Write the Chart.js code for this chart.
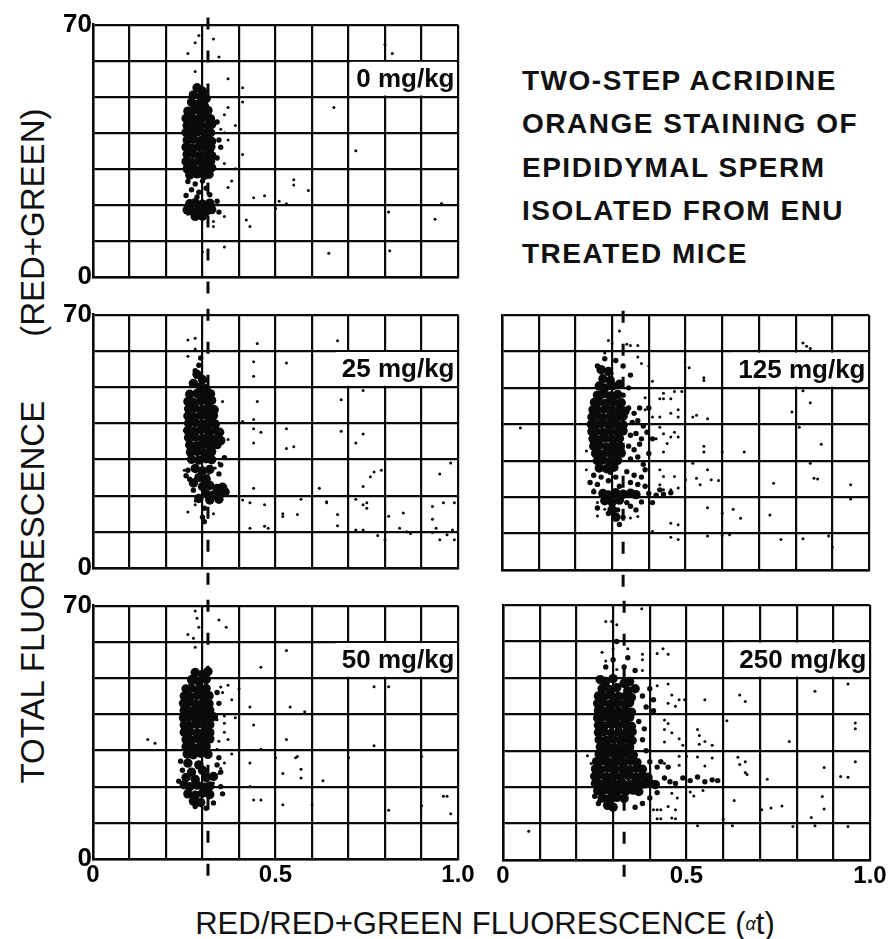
<!DOCTYPE html>
<html>
<head>
<meta charset="utf-8">
<script src="https://cdn.jsdelivr.net/npm/chart.js@4.4.1/dist/chart.umd.min.js"></script>
<style>
  body { margin: 0; background: #fff; width: 891px; height: 939px; position: relative; overflow: hidden;
         font-family: "Liberation Sans", Arial, Helvetica, sans-serif; color: #111; }
  canvas { position: absolute; }
  .titulo { position: absolute; left: 522px; top: 59px; font-size: 28px; font-weight: bold;
            line-height: 43.3px; letter-spacing: 1.5px; white-space: pre; }
  .ejeX { position: absolute; left: 185px; top: 908px; width: 600px; text-align: center;
          font-size: 31px; line-height: 31px; white-space: pre; }
  .ejeY { position: absolute; left: -317px; top: 427px; width: 700px; height: 38px; text-align: center;
          font-size: 33px; line-height: 38px; white-space: pre; transform: rotate(-90deg); }
</style>
</head>
<body>
<div class="titulo">TWO-STEP ACRIDINE
ORANGE STAINING OF
EPIDIDYMAL SPERM
ISOLATED FROM ENU
TREATED MICE</div>
<div class="ejeY">TOTAL FLUORESCENCE<span style="margin-left:64px">(RED+GREEN)</span></div>
<div class="ejeX">RED/RED+GREEN FLUORESCENCE (<span style="font-size:18px;font-style:italic;vertical-align:4px">α</span>t)</div>

<canvas id="p0" width="430" height="309" style="left:48px;top:8px"></canvas>
<canvas id="p25" width="430" height="310" style="left:48px;top:298px"></canvas>
<canvas id="p50" width="430" height="310" style="left:48px;top:589px"></canvas>
<canvas id="p125" width="432" height="311" style="left:457px;top:299px"></canvas>
<canvas id="p250" width="432" height="311" style="left:458px;top:589px"></canvas>

<script>
// Etiquetas y ejes
const doseLabels = ["0 mg/kg", "25 mg/kg", "50 mg/kg", "125 mg/kg", "250 mg/kg"];
const xTickValues = [0, 0.5, 1];
const xTickLabels = ["0", "0.5", "1.0"];
const yTickValues = [0, 70];
const yTickLabels = ["0", "70"];
// posicion de la linea discontinua (alfa t) en cada panel
const gateX = [0.315, 0.315, 0.315, 0.33, 0.33];

// ---- 0 mg/kg ----
const dose0Core = [
  [0.285,52.5],[0.30,51.5],[0.275,50.5],[0.295,50],[0.31,49.5],[0.27,48.5],[0.29,48],[0.305,47.5],
  [0.26,46],[0.275,46.3],[0.295,45.8],[0.315,46.2],
  [0.255,44],[0.27,44.2],[0.288,43.8],[0.307,44.3],[0.322,43.9],
  [0.258,42],[0.275,41.8],[0.295,42.2],[0.315,41.9],[0.325,42.3],
  [0.255,40.1],[0.268,39.8],[0.286,40.2],[0.306,39.9],[0.322,40],
  [0.258,38],[0.275,38.2],[0.295,37.8],[0.315,38.1],[0.325,37.6],
  [0.255,36],[0.27,35.8],[0.29,36.2],[0.31,35.9],[0.323,36.1],
  [0.258,34],[0.275,34.2],[0.295,33.8],[0.315,34.1],[0.325,33.7],
  [0.255,32],[0.27,31.8],[0.29,32.2],[0.31,31.9],[0.322,32.1],
  [0.258,30],[0.275,30.2],[0.295,29.8],[0.315,30.1],[0.325,30.3],
  [0.265,28.3],[0.285,28.6],[0.305,28.2],[0.318,28.5],
  [0.265,20.3],[0.28,20.6],[0.30,20.2],[0.32,20.5],[0.258,18.6],[0.27,18.3],[0.29,18.8],[0.31,18.2],
  [0.325,18.7],[0.28,16.8],[0.30,16.9]
];
const dose0Mid = [
  [0.26,26.5],[0.28,25.8],[0.30,26.6],[0.27,24.2],[0.29,23.5],[0.31,24.6],[0.255,22.6],[0.285,22.2],
  [0.32,22.8],[0.34,21],[0.345,18],[0.34,43],[0.345,38],[0.34,33],[0.35,36]
];
const dose0Sparse = [
  [0.66,47],[0.72,35],[0.82,62],[0.80,64.5],[0.55,27],[0.55,25.5],[0.51,21],[0.53,20.3],[0.955,20.4],
  [0.937,16],[0.81,18],[0.646,6.6],[0.813,7.3],[0.42,15.8],[0.43,14],[0.36,8.3],[0.44,22],[0.41,52.5],
  [0.37,55],[0.37,47],[0.345,61],[0.28,65],[0.26,62],[0.28,57],[0.41,48.5],[0.41,34],[0.39,42],
  [0.36,40],[0.37,38],[0.36,31.5],[0.38,26.6],[0.37,24.8],[0.36,16.8],[0.33,15.4],[0.26,17.4],
  [0.33,14],[0.30,7],[0.29,67],[0.33,66],[0.35,41],[0.36,45],[0.39,30],[0.47,22.5],[0.50,19],[0.59,24]
];

// ---- 25 mg/kg ----
const dose25Core = [
  [0.285,53.5],[0.30,52],[0.275,51],[0.295,50],[0.31,49.5],
  [0.265,48],[0.285,48.2],[0.305,47.8],[0.322,48.1],
  [0.26,46],[0.275,45.8],[0.295,46.2],[0.315,45.9],[0.325,46.3],
  [0.262,44],[0.28,44.2],[0.30,43.8],[0.32,44.1],[0.332,43.7],
  [0.26,42],[0.275,41.8],[0.295,42.2],[0.315,41.9],[0.33,42.1],
  [0.262,40],[0.28,40.2],[0.30,39.8],[0.32,40.1],[0.335,39.7],
  [0.26,38],[0.275,37.8],[0.295,38.2],[0.315,37.9],[0.335,38.1],[0.347,37.5],
  [0.262,36],[0.28,36.2],[0.30,35.8],[0.32,36.1],[0.34,35.7],[0.35,35.2],
  [0.265,34],[0.285,33.8],[0.305,34.2],[0.325,33.9],[0.34,34.1],
  [0.267,32],[0.285,32.2],[0.305,31.8],[0.325,32.1],
  [0.27,30],[0.29,29.8],[0.31,30.2],[0.325,29.9],
  [0.28,27.5],[0.30,26.8],[0.32,27.2],[0.29,25],[0.31,24.5],[0.275,23.5],[0.30,22.5],[0.32,22.8],
  [0.34,22],[0.355,22.3],[0.31,20.5],[0.33,20.2],[0.35,20.6],[0.362,21],[0.29,19.2],[0.32,18.8],[0.345,19]
];
const dose25Mid = [
  [0.26,27],[0.265,24.5],[0.345,26],[0.35,28.5],[0.36,30.5],[0.305,16.5],[0.30,14],[0.305,12.8],
  [0.275,21.5],[0.255,25.5],[0.29,56],[0.295,58],[0.28,54.5]
];
const dose25Sparse = [
  [0.45,62],[0.67,62.8],[0.44,57],[0.53,56.6],[0.44,53],[0.45,46],[0.68,46.5],[0.74,49],[0.355,46],
  [0.41,40.5],[0.44,41],[0.44,38.5],[0.46,37.5],[0.44,34.5],[0.53,38.5],[0.53,33],[0.55,33.5],
  [0.68,37.8],[0.74,37],[0.72,34.5],[0.37,35.5],[0.36,30.5],[0.76,25.2],[0.77,26.5],[0.79,27],
  [0.95,26],[0.98,29],[0.44,22],[0.62,22],[0.74,22.5],[0.41,18.8],[0.43,18],[0.47,17.5],[0.57,19],
  [0.64,18],[0.72,19],[0.74,17.5],[0.75,18],[0.75,16.5],[0.93,17],[0.96,18],[0.99,18],[0.52,15],
  [0.56,14.8],[0.67,14.8],[0.81,14.3],[0.85,15.2],[0.93,13.5],[0.43,11],[0.47,11.5],[0.48,11],
  [0.67,11.7],[0.72,10.5],[0.74,10.5],[0.78,9],[0.84,11],[0.86,10],[0.87,9.5],[0.93,9.8],[0.95,7.8],
  [0.97,9.2],[0.985,10.5],[0.94,11],[0.99,7.8],[0.80,7.8],[0.26,15.5],[0.28,17.5],[0.33,15],[0.35,19],
  [0.26,63],[0.28,63.5],[0.28,60.5],[0.26,58.5],[0.26,40],[0.25,38],[0.25,27],[0.28,18.5],
  [0.335,27.6],[0.345,29],[0.64,18.3],[0.52,14.2]
];

// ---- 50 mg/kg ----
const dose50Core = [
  [0.28,51.5],[0.30,51],[0.315,51.8],[0.27,49.5],[0.29,49],[0.31,49.6],
  [0.255,47],[0.27,47.2],[0.29,46.8],[0.31,47.1],
  [0.25,45],[0.265,44.8],[0.285,45.2],[0.305,44.9],[0.318,45.1],
  [0.248,43],[0.26,43.2],[0.28,42.8],[0.30,43.1],[0.318,42.9],
  [0.25,41],[0.265,40.8],[0.285,41.2],[0.305,40.9],[0.32,41.1],
  [0.248,39],[0.26,39.2],[0.28,38.8],[0.30,39.1],[0.32,38.9],[0.33,39.3],
  [0.25,37],[0.265,36.8],[0.285,37.2],[0.305,36.9],[0.32,37.1],
  [0.25,35],[0.265,35.2],[0.285,34.8],[0.305,35.1],[0.32,34.9],
  [0.255,33],[0.27,32.8],[0.29,33.2],[0.31,32.9],[0.32,33.2],
  [0.255,31],[0.27,31.2],[0.29,30.8],[0.31,31.1],
  [0.258,29],[0.275,28.8],[0.295,29.2],[0.315,28.9],
  [0.26,26.5],[0.29,26],[0.27,24],[0.30,24.5],[0.255,22.5],[0.28,22],[0.31,22.5],[0.33,22.8],
  [0.25,20.5],[0.265,20],[0.285,20.4],[0.305,19.8],[0.32,20.2],[0.26,18],[0.28,17.6],[0.30,18.2],
  [0.32,17.8],[0.275,16],[0.295,15.6]
];
const dose50Mid = [
  [0.24,27],[0.245,24.5],[0.235,21.5],[0.34,26],[0.35,24],[0.345,28],[0.28,14.5],[0.31,14],
  [0.33,15.5],[0.35,20],[0.355,18],[0.34,46],[0.345,43]
];
const dose50Sparse = [
  [0.345,66],[0.365,64],[0.26,62],[0.53,57.6],[0.46,53],[0.77,47.6],[0.81,47.6],[0.40,47],[0.355,46],
  [0.35,47.5],[0.43,42],[0.54,42],[0.58,40.7],[0.39,39],[0.36,39.5],[0.36,37.5],[0.34,38.5],[0.44,37],
  [0.15,33],[0.17,32],[0.46,30.3],[0.53,33],[0.56,28.3],[0.555,28],[0.77,31.3],[0.70,28],[0.90,28.3],
  [0.43,26.5],[0.50,28],[0.345,32.5],[0.34,30.3],[0.36,26.5],[0.38,29],[0.57,24.8],[0.57,22.4],
  [0.63,21.6],[0.43,20],[0.52,23.6],[0.345,23.6],[0.35,25],[0.33,21],[0.44,16.3],[0.46,16.3],
  [0.52,15],[0.60,15],[0.81,13.5],[0.90,14.7],[0.96,17.3],[0.97,17.3],[0.98,12.5],[0.29,64],
  [0.28,68.5],[0.285,66.5],[0.275,61],[0.28,58.5],[0.37,48],[0.38,44],[0.36,35],[0.37,33]
];

// ---- 125 mg/kg ----
const dose125Core = [
  [0.27,55],[0.29,54.5],[0.275,52.5],[0.295,52],[0.265,50.5],[0.28,50],[0.30,50.5],[0.32,51],
  [0.26,48],[0.275,48.3],[0.295,47.8],[0.315,48.2],
  [0.252,46],[0.265,46.2],[0.285,45.8],[0.305,46.1],[0.325,45.9],
  [0.248,44],[0.26,43.8],[0.28,44.2],[0.30,43.9],[0.32,44.1],[0.335,43.6],
  [0.245,42],[0.255,42.2],[0.275,41.8],[0.295,42.1],[0.315,41.9],[0.33,42.2],
  [0.243,40],[0.255,39.8],[0.27,40.2],[0.29,39.9],[0.31,40.1],[0.33,39.8],
  [0.245,38],[0.255,38.2],[0.275,37.8],[0.295,38.1],[0.315,37.9],[0.33,38.2],
  [0.248,36],[0.26,35.8],[0.28,36.2],[0.30,35.9],[0.32,36.1],
  [0.25,34],[0.265,34.2],[0.285,33.8],[0.305,34.1],[0.322,33.9],
  [0.255,32],[0.27,31.8],[0.29,32.2],[0.31,31.9],[0.325,32.1],
  [0.26,30],[0.275,30.2],[0.295,29.8],[0.315,30.1],
  [0.265,28],[0.285,27.8],[0.305,28.2],
  [0.275,21],[0.29,20.6],[0.31,21.2],[0.33,20.8],[0.35,21.1],[0.365,20.7],[0.28,19],[0.30,18.6],
  [0.32,19.2],[0.30,16.5],[0.31,14.5]
];
const dose125Mid = [
  [0.345,44.5],[0.36,43],[0.375,44.5],[0.355,40.5],[0.37,41],[0.385,39.5],[0.35,37],[0.365,37.5],
  [0.38,36],[0.395,37.8],[0.345,34],[0.36,33],[0.375,34.5],[0.35,30.5],[0.37,31],[0.385,29],
  [0.34,27],[0.36,26],[0.38,25.5],[0.35,24],[0.37,23.5],[0.39,23],[0.40,21],[0.42,20.5],[0.44,20.8],
  [0.46,21.2],[0.39,27.5],[0.40,32],[0.41,36],[0.40,44.5],[0.33,48],[0.345,50],[0.35,53.5],[0.33,56],
  [0.31,57.5],[0.28,58],[0.26,56],[0.27,25.5],[0.25,26],[0.26,23.5],[0.29,24.5],[0.31,25.5],[0.32,23],
  [0.295,26.8],[0.24,24],[0.25,21.5],[0.26,17],[0.29,15.5],[0.315,16.5],[0.32,12.5],[0.33,14.5],
  [0.35,17.5],[0.34,18.5],[0.365,16.5],[0.38,18.7],[0.41,18.5],[0.43,22]
];
const dose125Sparse = [
  [0.32,65.6],[0.34,62],[0.35,61.6],[0.37,61.6],[0.37,58.5],[0.38,56.7],[0.40,56],[0.41,51.8],
  [0.51,55.5],[0.55,52.8],[0.55,52],[0.82,62.3],[0.83,61.4],[0.84,60.8],[0.44,48.5],[0.47,49],
  [0.49,49],[0.43,47],[0.44,47],[0.46,47],[0.39,47.3],[0.39,44],[0.41,42],[0.43,42],[0.46,43],
  [0.48,44],[0.48,42],[0.52,42],[0.53,42.5],[0.56,41.5],[0.82,49.2],[0.84,45.9],[0.79,43.4],
  [0.81,39.2],[0.43,39.2],[0.44,37.4],[0.46,36.5],[0.47,37.8],[0.48,36.5],[0.42,36],[0.45,34.7],
  [0.44,32.4],[0.55,34],[0.55,32.4],[0.60,32.4],[0.66,32.4],[0.87,34.5],[0.52,29.3],[0.56,27.5],
  [0.57,24.8],[0.54,23.4],[0.53,25.2],[0.50,24.8],[0.47,25.7],[0.44,25.7],[0.43,27.5],[0.43,23.4],
  [0.44,22],[0.46,22],[0.48,22.5],[0.84,29.3],[0.85,25.2],[0.86,25],[0.59,24.6],[0.74,23.8],
  [0.95,23.4],[0.95,19.5],[0.56,17.1],[0.60,15.6],[0.63,16.7],[0.65,14.2],[0.73,15.1],[0.46,12.8],
  [0.48,12.4],[0.46,9],[0.48,8.4],[0.56,9.3],[0.60,9.5],[0.62,9.7],[0.76,8.4],[0.82,8.6],[0.89,9.3],
  [0.90,6.3],[0.41,10.6],[0.37,14.7],[0.35,14.3],[0.23,32.7],[0.23,27.5],[0.24,24.3],[0.25,22],
  [0.26,18.5],[0.26,14.8],[0.28,16.7],[0.29,48.4],[0.30,54],[0.27,54],[0.28,59.6],[0.30,62.3],
  [0.29,63],[0.27,51.3],[0.05,39]
];

// ---- 250 mg/kg ----
const dose250Core = [
  [0.265,49.5],[0.28,49],[0.30,49.8],[0.33,48.5],[0.345,49],[0.36,47],[0.27,47],[0.29,46.8],[0.31,47.3],[0.34,46.5],
  [0.26,45],[0.275,44.8],[0.295,45.2],[0.315,44.9],[0.335,45.1],[0.35,44.6],
  [0.258,43],[0.27,43.2],[0.29,42.8],[0.31,43.1],[0.33,42.9],[0.345,43.2],
  [0.26,41],[0.275,40.8],[0.295,41.2],[0.315,40.9],[0.335,41.1],[0.35,40.6],
  [0.258,39],[0.27,39.2],[0.29,38.8],[0.31,39.1],[0.33,38.9],[0.345,39.2],
  [0.26,37],[0.275,36.8],[0.295,37.2],[0.315,36.9],[0.335,37.1],[0.35,36.7],
  [0.26,35],[0.275,35.2],[0.295,34.8],[0.315,35.1],[0.335,34.9],[0.352,35.2],
  [0.262,33],[0.28,32.8],[0.30,33.2],[0.32,32.9],[0.34,33.1],[0.352,32.8],
  [0.265,31],[0.285,31.2],[0.305,30.8],[0.325,31.1],[0.345,30.9],
  [0.262,29],[0.28,28.8],[0.30,29.2],[0.32,28.9],[0.34,29.1],[0.355,28.8],
  [0.255,27],[0.27,27.2],[0.29,26.8],[0.31,27.1],[0.33,26.9],[0.35,27.2],[0.365,26.8],
  [0.252,25],[0.265,24.8],[0.285,25.2],[0.305,24.9],[0.325,25.1],[0.345,24.8],[0.365,25.2],[0.38,24.9],
  [0.25,23],[0.26,23.2],[0.28,22.8],[0.30,23.1],[0.32,22.9],[0.34,23.2],[0.36,22.8],[0.38,23.1],[0.395,22.7],
  [0.252,21],[0.265,20.8],[0.285,21.2],[0.305,20.9],[0.325,21.1],[0.345,20.8],[0.365,21.2],[0.385,20.9],
  [0.40,21.1],[0.415,20.7],
  [0.258,19],[0.275,19.2],[0.295,18.8],[0.315,19.1],[0.335,18.9],[0.355,19.2],[0.37,18.8],
  [0.27,17],[0.29,16.8],[0.31,17.2],[0.33,16.9],[0.285,15],[0.30,14.5]
];
const dose250Mid = [
  [0.38,45],[0.39,42],[0.40,47],[0.37,38],[0.385,36],[0.38,33],[0.39,30],[0.40,27],[0.42,25.5],
  [0.44,22.5],[0.455,21.5],[0.47,21],[0.49,22.5],[0.51,21.8],[0.53,22.8],[0.55,21.5],[0.57,22],
  [0.585,21.8],[0.42,18.5],[0.40,17],[0.38,15.5],[0.36,14.5],[0.26,15.5],[0.25,17.5],[0.28,53],
  [0.30,55],[0.33,53],[0.36,52],[0.34,55.5],[0.31,60],[0.43,27],[0.45,25.5],[0.41,41],[0.41,44]
];
const dose250Sparse = [
  [0.296,65.5],[0.31,64.6],[0.378,69],[0.28,65.5],[0.27,57],[0.30,58],[0.34,58],[0.38,56.5],[0.38,55],
  [0.436,58],[0.45,56.5],[0.42,56.7],[0.28,54.6],[0.31,52.3],[0.38,52],[0.42,47.8],[0.45,48.3],
  [0.46,45.3],[0.45,43],[0.47,42.2],[0.48,44],[0.495,44],[0.55,44],[0.645,45.3],[0.66,43.5],[0.85,46.3],
  [0.94,48.3],[0.44,38.4],[0.45,37.5],[0.44,35.8],[0.46,34.9],[0.44,32.4],[0.48,33.3],[0.53,35.8],
  [0.535,34.2],[0.55,32.5],[0.535,31.8],[0.49,31.5],[0.57,31.5],[0.61,38.2],[0.78,32.5],[0.96,37.6],
  [0.96,36],[0.44,26.5],[0.48,28.5],[0.48,26],[0.50,28.5],[0.53,28.3],[0.55,25.8],[0.57,28],[0.64,28.2],
  [0.645,26.2],[0.66,27],[0.665,23.5],[0.66,24],[0.875,25.4],[0.96,27],[0.92,22.9],[0.94,22.7],
  [0.72,22.2],[0.51,18.7],[0.545,19.1],[0.46,18.3],[0.475,17],[0.45,14.7],[0.41,13.8],[0.42,13.8],
  [0.43,13.8],[0.47,13.8],[0.52,17.6],[0.63,16.3],[0.705,13.8],[0.73,14.3],[0.76,14.8],[0.87,17.4],
  [0.875,14],[0.84,11.7],[0.42,11.3],[0.43,11.3],[0.46,11.5],[0.47,11.3],[0.53,9.4],[0.60,11.2],
  [0.60,10],[0.625,9.4],[0.79,9.2],[0.85,9.4],[0.94,9.2],[0.07,7.9],[0.26,16.2],[0.28,17.6],
  [0.23,28.6],[0.24,26.5]
];

const FUENTE = '"Liberation Sans", Arial, Helvetica, sans-serif';
const NEGRO = "#0a0a0a";

// caja blanca con la dosis, entre las lineas de 50 y 60
const etiquetaDosis = {
  id: "etiquetaDosis",
  afterDatasetsDraw(chart, args, opts) {
    const { ctx, chartArea, scales } = chart;
    const y60 = scales.y.getPixelForValue(60);
    const y50 = scales.y.getPixelForValue(50);
    ctx.save();
    ctx.font = "bold 26px " + FUENTE;
    const w = ctx.measureText(opts.text).width;
    const der = chartArea.right - 1.5;
    ctx.fillStyle = "#fff";
    ctx.fillRect(der - w - 8, y60 + 1.2, w + 8, y50 - y60 - 2.4);
    ctx.fillStyle = NEGRO;
    ctx.textAlign = "right";
    ctx.textBaseline = "middle";
    ctx.fillText(opts.text, der - 2, (y50 + y60) / 2 + 1);
    ctx.restore();
  },
};

const aPuntos = (arr) => arr.map(([x, y]) => ({ x, y }));
const cerca = (v, lista) => lista.findIndex((t) => Math.abs(v - t) < 1e-6);

const crearPanel = (id, idx, core, mid, sparse, showX, showY) => {
  const ctx = document.getElementById(id).getContext("2d");
  const puntos = (data, r) => ({
    type: "scatter", data: aPuntos(data), pointRadius: r, pointHoverRadius: r,
    backgroundColor: NEGRO, borderWidth: 0,
  });
  new Chart(ctx, {
    type: "scatter",
    data: {
      datasets: [
        puntos(sparse, 1.5),
        puntos(mid, 2.7),
        puntos(core, 4.7),
        {
          type: "line",
          data: [{ x: gateX[idx], y: -4.6 }, { x: gateX[idx], y: 74.5 }],
          borderColor: NEGRO, borderWidth: 3, borderDash: [12, 21],
          pointRadius: 0, clip: false,
        },
      ],
    },
    plugins: [etiquetaDosis],
    options: {
      responsive: false,
      animation: false,
      events: [],
      layout: { padding: { top: 16, right: 20, left: 0, bottom: 0 }, autoPadding: false },
      plugins: {
        legend: { display: false },
        tooltip: { enabled: false },
        etiquetaDosis: { text: doseLabels[idx] },
      },
      scales: {
        x: {
          type: "linear", min: 0, max: 1,
          afterFit: (s) => { s.height = 40; },
          grid: { color: NEGRO, lineWidth: 2.2, drawTicks: false },
          border: { color: NEGRO, width: 2.5 },
          ticks: {
            display: showX, stepSize: 0.1, autoSkip: false, maxRotation: 0, padding: 2,
            color: "#000", font: { family: FUENTE, size: 24, weight: "bold" },
            callback: (v) => { const i = cerca(v, xTickValues); return i < 0 ? "" : xTickLabels[i]; },
          },
        },
        y: {
          type: "linear", min: 0, max: 70,
          afterFit: (s) => { s.width = 45; },
          grid: { color: NEGRO, lineWidth: 2.2, drawTicks: false },
          border: { color: NEGRO, width: 2.5 },
          ticks: {
            display: showY, stepSize: 10, autoSkip: false, padding: 1,
            color: "#000", font: { family: FUENTE, size: 26, weight: "bold" },
            callback: (v) => { const i = cerca(v, yTickValues); return i < 0 ? "" : yTickLabels[i]; },
          },
        },
      },
    },
  });
};

crearPanel("p0", 0, dose0Core, dose0Mid, dose0Sparse, false, true);
crearPanel("p25", 1, dose25Core, dose25Mid, dose25Sparse, false, true);
crearPanel("p50", 2, dose50Core, dose50Mid, dose50Sparse, true, true);
crearPanel("p125", 3, dose125Core, dose125Mid, dose125Sparse, false, false);
crearPanel("p250", 4, dose250Core, dose250Mid, dose250Sparse, true, false);
</script>
</body>
</html>
